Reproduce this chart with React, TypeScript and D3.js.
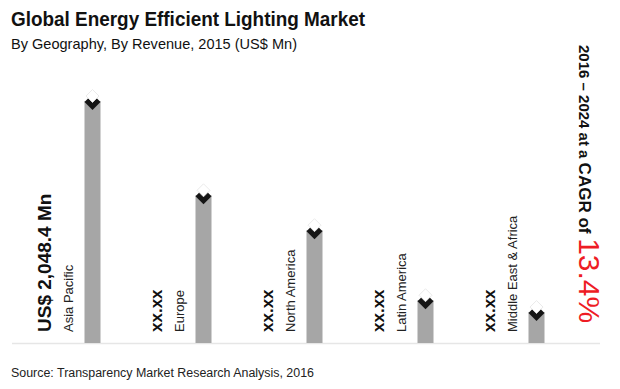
// App.tsx
import { useEffect, useRef } from "react";
import * as d3 from "d3";

//=============================== DATA ===============================
const regions = ["Asia Pacific", "Europe", "North America", "Latin America", "Middle East & Africa"];
const revenue = [2048.4, 1250, 955, 362, 262]; // US$ Mn, 2015 (only Asia Pacific is labelled)
const valueLabels = ["US$ 2,048.4 Mn", "xx.xx", "xx.xx", "xx.xx", "xx.xx"];
const cagrPeriod = "2016 – 2024 at a ";
const cagrLabel = "CAGR of ";
const cagrValue = "13.4%";

const W = 620;
const H = 389;

const App = () => {
  const svgRef = useRef<SVGSVGElement | null>(null);

  useEffect(() => {
    const svg = d3.select(svgRef.current).attr("width", W).attr("height", H);
    svg.selectAll("*").remove();

    const font = "'Liberation Sans', Arial, sans-serif";

    //---------- titles ----------
    svg.append("text")
      .attr("x", 11).attr("y", 26)
      .attr("font-family", font).attr("font-weight", "bold").attr("font-size", 20)
      .attr("textLength", 354).attr("lengthAdjust", "spacingAndGlyphs")
      .attr("fill", "#111")
      .text("Global Energy Efficient Lighting Market");

    svg.append("text")
      .attr("x", 11).attr("y", 49)
      .attr("font-family", font).attr("font-size", 15)
      .attr("textLength", 286).attr("lengthAdjust", "spacingAndGlyphs")
      .attr("fill", "#111")
      .text("By Geography, By Revenue, 2015 (US$ Mn)");

    svg.append("text")
      .attr("x", 11).attr("y", 377)
      .attr("font-family", font).attr("font-size", 12)
      .attr("textLength", 303).attr("lengthAdjust", "spacingAndGlyphs")
      .attr("fill", "#222")
      .text("Source: Transparency Market Research Analysis, 2016");

    //---------- scales ----------
    const baseY = 343;
    const x = d3.scalePoint<string>().domain(regions).range([92.5, 536.5]);
    const y = d3.scaleLinear().domain([0, d3.max(revenue) as number]).range([baseY, 101]);
    const barW = 16;

    // faint baseline
    svg.append("line")
      .attr("x1", 12).attr("x2", 600).attr("y1", baseY + 0.5).attr("y2", baseY + 0.5)
      .attr("stroke", "#e6e6e6").attr("stroke-width", 1.5);

    const g = svg.append("g");
    const rows = regions.map((r, i) => ({ region: r, value: revenue[i], label: valueLabels[i] }));

    // bars
    g.selectAll("rect.bar").data(rows).enter().append("rect")
      .attr("class", "bar")
      .attr("x", (d) => (x(d.region) as number) - barW / 2)
      .attr("width", barW)
      .attr("y", (d) => y(d.value))
      .attr("height", (d) => baseY - y(d.value))
      .attr("fill", "#a6a6a6");

    // diamond markers: white one above, black one on the bar top -> chevron look
    const diamond = (cx: number, cy: number, hw: number, hh: number) =>
      `M${cx},${cy - hh}L${cx + hw},${cy}L${cx},${cy + hh}L${cx - hw},${cy}Z`;

    g.selectAll("path.dk").data(rows).enter().append("path")
      .attr("class", "dk")
      .attr("d", (d) => diamond(x(d.region) as number, y(d.value) + 1, 8, 8))
      .attr("fill", "#151515");

    g.selectAll("path.wt").data(rows).enter().append("path")
      .attr("class", "wt")
      .attr("d", (d) => diamond(x(d.region) as number, y(d.value) - 5, 6.5, 6.5))
      .attr("fill", "#fff")
      .attr("stroke", "#e4e4e4").attr("stroke-width", 0.8);

    // value labels (rotated)
    g.selectAll("text.val").data(rows).enter().append("text")
      .attr("class", "val")
      .attr("transform", (d) => `translate(${(x(d.region) as number) - 42},332) rotate(-90)`)
      .attr("font-family", font).attr("font-weight", "bold")
      .attr("font-size", (d, i) => (i === 0 ? 19 : 17))
      .attr("fill", "#111")
      .text((d) => d.label);

    // category labels (rotated)
    g.selectAll("text.cat").data(rows).enter().append("text")
      .attr("class", "cat")
      .attr("transform", (d) => `translate(${(x(d.region) as number) - 20},332) rotate(-90)`)
      .attr("font-family", font).attr("font-size", 13)
      .attr("fill", "#222")
      .text((d) => d.region);

    //---------- CAGR note on the right ----------
    const note = svg.append("text")
      .attr("transform", "translate(579,45) rotate(90)")
      .attr("font-family", font);
    note.append("tspan").attr("font-weight", "bold").attr("font-size", 15).attr("fill", "#111")
      .text(cagrPeriod);
    note.append("tspan").attr("font-weight", "bold").attr("font-size", 17).attr("fill", "#111")
      .text(cagrLabel);
    note.append("tspan").attr("font-size", 30).attr("fill", "#ee1c25")
      .text(cagrValue);
  }, []);

  return (
    <svg
      ref={svgRef}
      style={{ position: "absolute", left: 0, top: 0, background: "#fff" }}
    />
  );
};

export default App;
